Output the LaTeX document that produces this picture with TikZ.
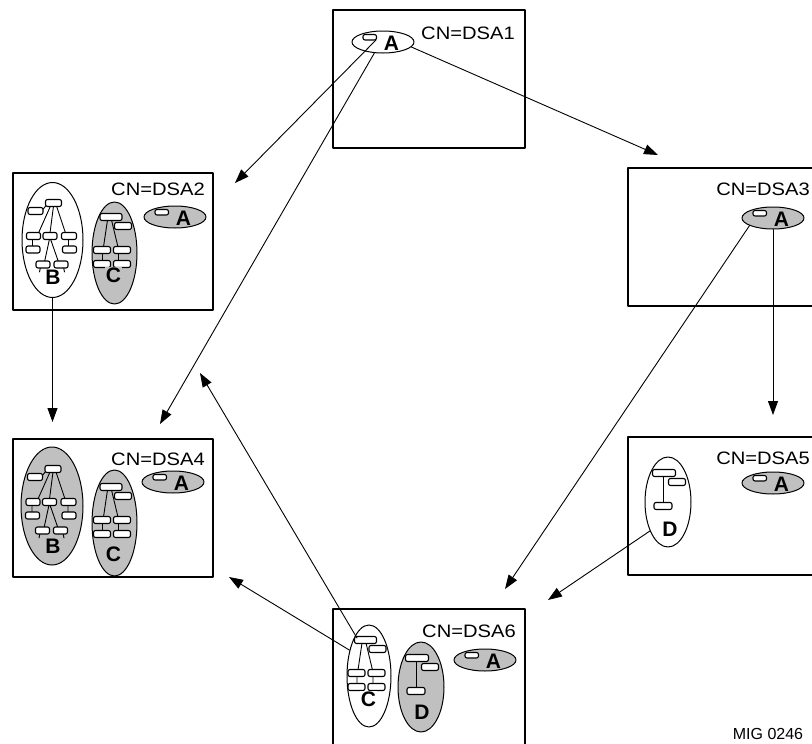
\documentclass[tikz,border=0pt]{standalone}
\usepackage{fontspec}
\newfontfamily\lblfont[FakeStretch=1.12]{Liberation Sans}
\newfontfamily\letfont{Liberation Sans}
\usetikzlibrary{arrows.meta,shapes.geometric}
\definecolor{shade}{RGB}{192,192,192}

\newcommand{\smallrec}[3]{\draw[rec] (#1-#3/2,#2-3.5) rectangle (#1+#3/2,#2+3.5);}

\tikzset{
  dsabox/.style={draw,line width=2pt,rectangle,inner sep=0pt},
  dsalabel/.style={anchor=north east,inner sep=0pt,font=\lblfont\fontsize{18}{18}\selectfont},
  blob/.style={draw,ellipse,line width=1pt,inner sep=0pt},
  rec/.style={draw,line width=1.1pt,fill=white,rounded corners=2pt},
  twig/.style={line width=0.9pt},
  letter/.style={inner sep=0.8pt,font=\letfont\bfseries\fontsize{21}{21}\selectfont},
  link/.style={line width=0.9pt,-{Triangle[length=14pt,width=10pt]}},
  aset/.pic={
    \node[blob,fill=#1,minimum width=62pt,minimum height=22pt] (-e) at (0,0) {};
    \draw[rec] (-20,-7.5) rectangle (-6.5,-2);
    \coordinate (-r) at (-7,-2);
    \node[letter] (-l) at (8.5,1.5) {A};
  },
  btree/.pic={
    \draw[twig] (-10,-30) -- (-6,-35)
      (-2,-34) -- (-14,-7) (1,-34) -- (-2.5,-7) (4,-34) -- (13,-7)
      (-20,-1) -- (-20,7) (16,-1) -- (16,7)
      (-3,-1) -- (-8,22) (-2,-1) -- (6,22)
      (-12,27) -- (-13,32) (11,27) -- (12,32);
    \smallrec{1}{-37}{16}
    \smallrec{-17}{-29}{15}
    \smallrec{-19}{-4}{14} \smallrec{-2.5}{-4}{14} \smallrec{16.5}{-4}{15}
    \smallrec{-19.5}{9.5}{14} \smallrec{17}{9.5}{14}
    \smallrec{-9.5}{24.5}{14} \smallrec{8.5}{24.5}{14}
  },
  ctree/.pic={
    \draw[twig] (-7,-33) -- (-11,-6) (-3,-33) -- (3.5,-6)
      (-12,0) -- (-12,8) (4,0) -- (4,8);
    \smallrec{-3.5}{-36}{22} \smallrec{8.5}{-27}{17}
    \smallrec{-12.5}{-3}{17} \smallrec{7.5}{-3}{17}
    \smallrec{-12.5}{11}{17} \smallrec{7.5}{11}{17}
    \coordinate (-top) at (-12,-38);
  },
  dtree/.pic={
    \draw[twig] (-5,-26) -- (-5,1);
    \smallrec{-4}{-29}{23} \smallrec{9}{-20}{17} \smallrec{-5}{4}{18}
  },
}

\begin{document}
\begin{tikzpicture}[x=1pt,y=-1pt,line cap=round,line join=round]
  \useasboundingbox (0,0) rectangle (812,744);
  \clip (0,0) rectangle (812,744);
  % directory servers
  \node[dsabox,minimum width=192pt,minimum height=138pt] (dsa1) at (429,79) {};
  \node[dsabox,minimum width=200pt,minimum height=137pt] (dsa2) at (113,241.5) {};
  \node[dsabox,minimum width=194pt,minimum height=138pt] (dsa3) at (725,237) {};
  \node[dsabox,minimum width=200pt,minimum height=138pt] (dsa4) at (113,508) {};
  \node[dsabox,minimum width=194pt,minimum height=138pt] (dsa5) at (725,506) {};
  \node[dsabox,minimum width=192pt,minimum height=141pt] (dsa6) at (429,679.5) {};
  \node[dsalabel] (n1) at (515,27) {CN=DSA1};
  \node[dsalabel] (n2) at (205,183) {CN=DSA2};
  \node[dsalabel] (n3) at (810,183) {CN=DSA3};
  \node[dsalabel] (n4) at (205,453) {CN=DSA4};
  \node[dsalabel] (n5) at (810,452) {CN=DSA5};
  \node[dsalabel] (n6) at (516,625) {CN=DSA6};
  % naming contexts
  \pic (a1) at (383,42) {aset=white};
  \pic (a2) at (175,217) {aset=shade};
  \pic (a3) at (773,218) {aset=shade};
  \pic (a4) at (173,482) {aset=shade};
  \pic (a5) at (773,483) {aset=shade};
  \pic (a6) at (485,660) {aset=shade};
  % DSA2
  \node[blob,fill=white,minimum width=61pt,minimum height=115pt] (b2) at (52.5,240) {};
  \pic at (52.5,240) {btree};
  \node[letter,fill=white] (lb2) at (53,277) {B};
  \node[blob,fill=shade,minimum width=45pt,minimum height=102pt] (c2) at (114.5,253) {};
  \pic at (114.5,253) {ctree};
  \node[letter,fill=shade] (lc2) at (113.5,275) {C};
  % DSA4
  \node[blob,fill=shade,minimum width=62pt,minimum height=118pt] (b4) at (52,506) {};
  \pic at (52,506) {btree};
  \node[letter,fill=shade] (lb4) at (53,546) {B};
  \node[blob,fill=shade,minimum width=45pt,minimum height=106pt] (c4) at (114.5,523) {};
  \pic at (114.5,523) {ctree};
  \node[letter,fill=shade] (lc4) at (113.5,554) {C};
  % DSA5
  \node[blob,fill=white,minimum width=46pt,minimum height=90pt] (d5) at (668,502) {};
  \pic at (668,502) {dtree};
  \node[letter] (ld5) at (670,529.5) {D};
  % DSA6
  \node[blob,fill=white,minimum width=44pt,minimum height=102pt] (c6) at (369,676) {};
  \pic (c6t) at (369,676) {ctree};
  \node[letter,fill=white] (lc6) at (368.5,699) {C};
  \node[blob,fill=shade,minimum width=46pt,minimum height=90pt] (d6) at (421,687) {};
  \pic at (421,687) {dtree};
  \node[letter] (ld6) at (422,712) {D};
  % arrow ends
  \coordinate (in2) at (235,183);
  \coordinate (in3) at (658,155);
  \coordinate (in4a) at (160,424);
  \coordinate (in4b) at (52.5,422);
  \coordinate (in4c) at (200,373);
  \coordinate (in4d) at (229,577);
  \coordinate (in5) at (773,415);
  \coordinate (in6a) at (505,589);
  \coordinate (in6b) at (548,600);
  % replication
  \draw[link] (a1-r) -- (in2);
  \draw[link] (a1-e.232) -- (in4a);
  \draw[link] (a1-e.-10) -- (in3);
  \draw[link] (b2.south) -- (in4b);
  \draw[link] (a3-e.198) -- (in6a);
  \draw[link] (a3-e.south) -- (in5);
  \draw[link] (d5.238) -- (in6b);
  \draw[link] (c6t-top) -- (in4c);
  \draw[link] (c6.127) -- (in4d);
  \node[inner sep=0pt,font=\letfont\fontsize{16}{16}\selectfont] (mig) at (768,734) {MIG 0246};
\end{tikzpicture}
\end{document}
